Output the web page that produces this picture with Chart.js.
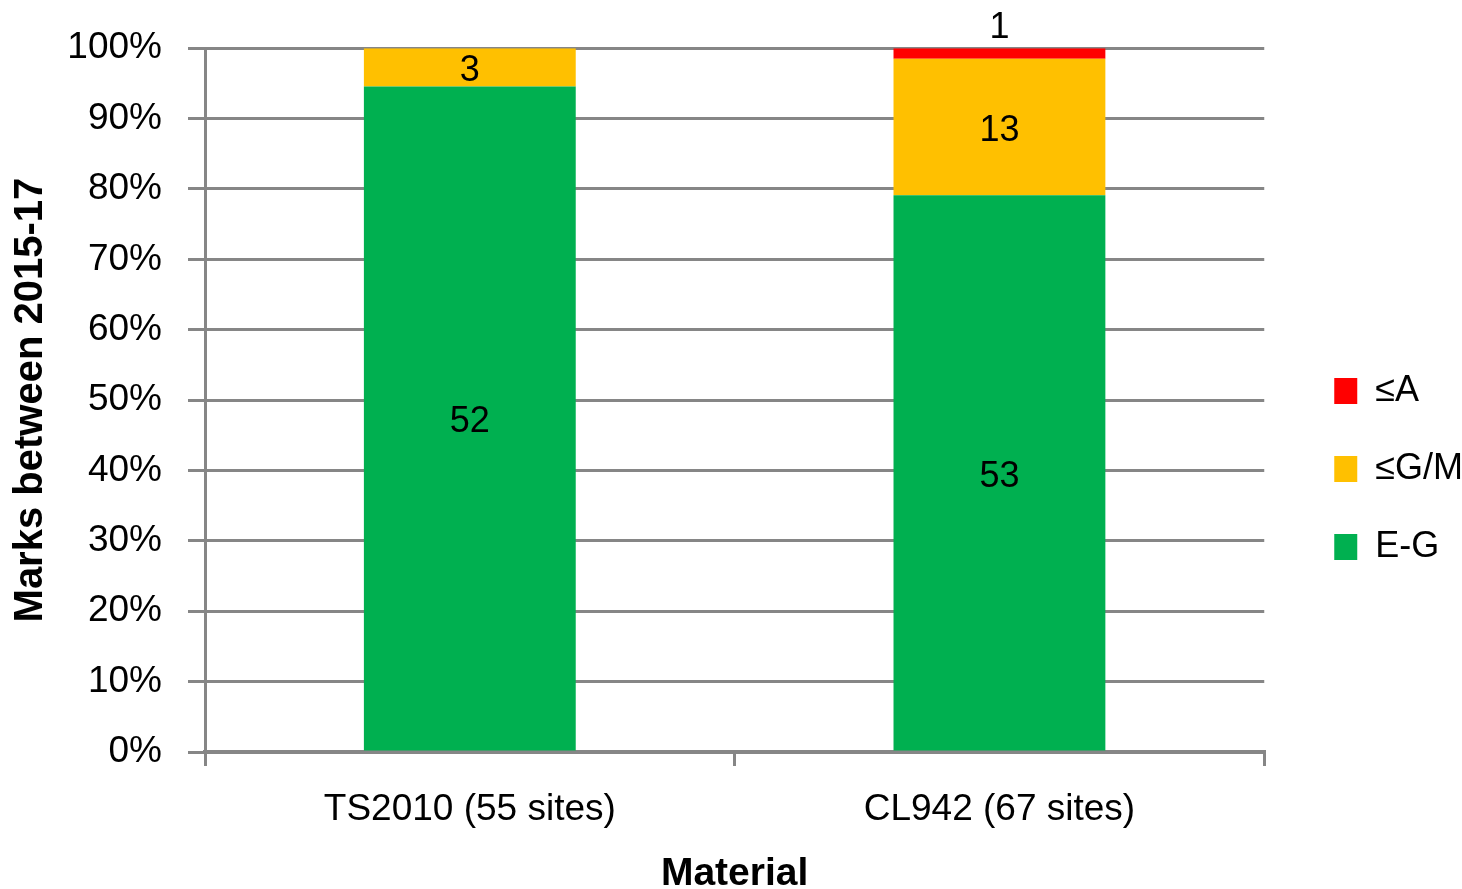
<!DOCTYPE html>
<html>
<head>
<meta charset="utf-8">
<script src="https://cdn.jsdelivr.net/npm/chart.js@4"></script>
<style>
  html, body { margin: 0; padding: 0; background: #ffffff; }
  #wrap { width: 1462px; height: 889px; position: relative; }
</style>
</head>
<body>
<div id="wrap"><canvas id="chart" width="1462" height="889"></canvas></div>
<script>
// Site counts per rating band for each material
const categories = ['TS2010 (55 sites)', 'CL942 (67 sites)'];
const seriesNames = ['E-G', '\u2264G/M', '\u2264A'];
const egCounts = [52, 53];
const gmCounts = [3, 13];
const aCounts = [0, 1];
const seriesColors = ['#00B050', '#FFC000', '#FF0000'];
const yTickStep = 10;

const countSeries = [egCounts, gmCounts, aCounts];
const totals = categories.map((_, i) => countSeries.reduce((s, arr) => s + arr[i], 0));
const toShare = arr => arr.map((v, i) => v / totals[i] * 100);

const FONT = '"Liberation Sans", Arial, sans-serif';
const GRID = '#868686';

// Writes each segment's site count on the bar; thin segments get it above the bar
const countLabels = {
  id: 'countLabels',
  afterDatasetsDraw(chart) {
    const ctx = chart.ctx;
    ctx.save();
    ctx.font = '36px ' + FONT;
    ctx.fillStyle = '#000000';
    ctx.textAlign = 'center';
    ctx.textBaseline = 'middle';
    chart.data.datasets.forEach((ds, di) => {
      const meta = chart.getDatasetMeta(di);
      meta.data.forEach((bar, j) => {
        const n = ds.counts[j];
        if (!n) return;
        const h = Math.abs(bar.base - bar.y);
        const y = h < 24 ? bar.y - 20 : (bar.y + bar.base) / 2 + 4;
        ctx.fillText(String(n), bar.x, y);
      });
    });
    ctx.restore();
  }
};

// Moves the legend block into its place beside the plot
const legendPlacement = {
  id: 'legendPlacement',
  afterLayout(chart) {
    const lg = chart.legend;
    if (!lg) return;
    const dx = 28, dy = 12;
    lg.left += dx; lg.right += dx;
    lg.top += dy; lg.bottom += dy;
  }
};

new Chart(document.getElementById('chart'), {
  type: 'bar',
  data: {
    labels: categories,
    datasets: seriesNames.map((name, k) => ({
      label: name,
      data: toShare(countSeries[k]),
      counts: countSeries[k],
      backgroundColor: seriesColors[k],
      borderWidth: 0,
      barPercentage: 0.4,
      categoryPercentage: 1.0
    }))
  },
  options: {
    responsive: false,
    animation: false,
    layout: { padding: { top: 25, right: 17, bottom: 0, left: 0 } },
    plugins: {
      tooltip: { enabled: false },
      legend: {
        position: 'right',
        reverse: true,
        labels: {
          font: { family: FONT, size: 36 },
          color: '#000000',
          boxWidth: 23,
          boxHeight: 26,
          padding: 42
        }
      }
    },
    scales: {
      x: {
        stacked: true,
        grid: {
          offset: true,
          drawOnChartArea: false,
          drawTicks: true,
          tickLength: 14,
          color: GRID,
          lineWidth: 3
        },
        border: { color: GRID, width: 4 },
        ticks: {
          font: { family: FONT, size: 37 },
          color: '#000000',
          padding: 22
        },
        title: {
          display: true,
          text: 'Material',
          font: { family: FONT, size: 39, weight: 'bold', lineHeight: 1 },
          color: '#000000',
          padding: { top: 0, bottom: -5 }
        },
        afterFit(scale) { scale.height = 137; }
      },
      y: {
        stacked: true,
        min: 0,
        max: 100,
        grid: {
          color: GRID,
          lineWidth: 3,
          drawTicks: true,
          tickLength: 17
        },
        border: { color: GRID, width: 3 },
        ticks: {
          stepSize: yTickStep,
          font: { family: FONT, size: 37 },
          color: '#000000',
          padding: 26,
          callback: v => v + '%'
        },
        title: {
          display: true,
          text: 'Marks between 2015-17',
          font: { family: FONT, size: 40, weight: 'bold', lineHeight: 1 },
          color: '#000000',
          padding: { top: 11, bottom: 0 }
        },
        afterFit(scale) { scale.width = 205; }
      }
    }
  },
  plugins: [countLabels, legendPlacement]
});
</script>
</body>
</html>
